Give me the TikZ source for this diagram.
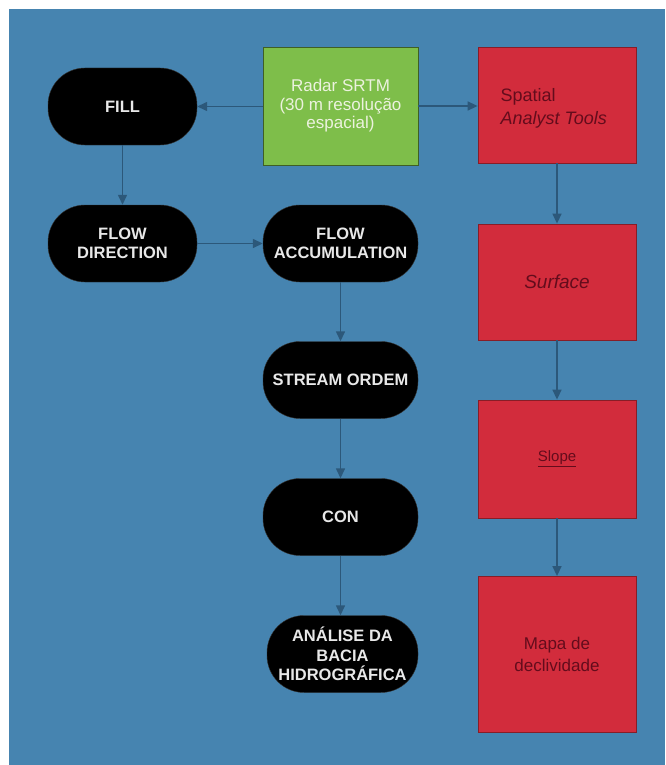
\documentclass[tikz,border=0pt]{standalone}
\usepackage{fontspec}
\setmainfont{Liberation Sans}
\usetikzlibrary{arrows.meta}
\definecolor{bgblue}{RGB}{70,132,176}
\definecolor{boxgreen}{RGB}{126,190,74}
\definecolor{boxred}{RGB}{210,44,60}
\definecolor{redtext}{RGB}{100,12,28}
\definecolor{greentext}{RGB}{236,242,222}
\definecolor{arrowc}{RGB}{44,88,122}
\definecolor{pilltext}{RGB}{232,232,232}
\tikzset{
  pill/.style={fill=black, draw=black!80, rounded corners=37pt, minimum width=150pt, minimum height=77pt,
    text=pilltext, align=center, font=\fontsize{16.5}{19.5}\selectfont\bfseries, inner sep=0pt},
  greenbox/.style={fill=boxgreen, draw=black!50!boxgreen, line width=0.8pt, minimum width=155pt, minimum height=118pt,
    text=greentext, align=center, font=\fontsize{17}{18.5}\selectfont, inner sep=0pt},
  redbox/.style={fill=boxred, draw=black!35!boxred, line width=0.8pt, minimum width=158pt, minimum height=116pt,
    text=redtext, align=center, font=\fontsize{18}{22}\selectfont, inner sep=0pt},
  flow/.style={draw=arrowc, line width=1.4pt, -{Triangle[length=10pt,width=9pt]}},
}
\begin{document}
\begin{tikzpicture}[x=1pt,y=-1pt]
\useasboundingbox (0,0) rectangle (665,765);
\fill[white] (0,0) rectangle (665,765);
\fill[bgblue] (9,9) rectangle (665,765);

\node[greenbox] (radar) at (340.5,106) {Radar SRTM\\(30 m resolução\\espacial)};
\node[redbox] (spatial) at (557,105) {};
\node[text=redtext, align=left, anchor=west, font=\fontsize{18}{23}\selectfont] (spatialtxt) at (497,108) {Spatial\\\textit{Analyst Tools}};

\node[pill, minimum width=149pt] (fill) at (122.5,106.5) {FILL};
\node[pill, minimum width=149pt] (fdir) at (122.5,243.5) {FLOW\\DIRECTION};
\node[pill, minimum width=155pt] (facc) at (340.5,243.5) {FLOW\\ACCUMULATION};
\node[pill, minimum width=155pt] (stream) at (340.5,380) {STREAM ORDEM};
\node[pill, minimum width=155pt] (con) at (340.5,517) {CON};
\node[pill, minimum width=151pt] (analise) at (342.5,654) {ANÁLISE DA\\BACIA\\HIDROGRÁFICA};

\node[redbox, font=\fontsize{19}{22}\selectfont\itshape] (surface) at (557,282) {Surface};
\node[redbox, minimum height=118pt, font=\fontsize{15}{18}\selectfont] (slope) at (557,459) {\raisebox{2pt}{\underline{Slope}}};
\node[redbox, minimum height=156pt, font=\fontsize{17}{22}\selectfont] (mapa) at (557,654.5) {Mapa de\\declividade};

\draw[flow] (radar.west |- fill.east) -- (fill.east);
\draw[flow] (radar.east) -- (radar.east -| spatial.west);
\draw[flow] (fill) -- (fdir);
\draw[flow] (fdir) -- (facc);
\draw[flow] (facc) -- (stream);
\draw[flow] (stream) -- (con);
\draw[flow] (con.south) -- (con.south |- analise.north);
\draw[flow] (spatial) -- (surface);
\draw[flow] (surface) -- (slope);
\draw[flow] (slope) -- (mapa);
\end{tikzpicture}
\end{document}
